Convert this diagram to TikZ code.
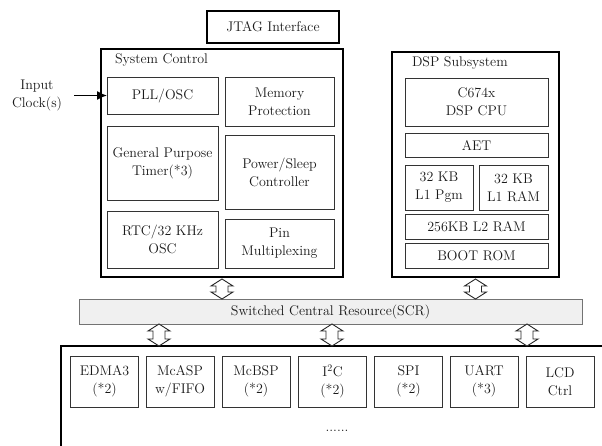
\documentclass[tikz,border=0pt]{standalone}
\usetikzlibrary{arrows.meta,calc}
\begin{document}
\begin{tikzpicture}[x=1pt,y=-1pt,
  every node/.style={font=\fontsize{14}{18}\selectfont, align=center, outer sep=0pt, inner sep=1pt, text=black!90},
  outerbox/.style={draw=black, line width=1.5pt},
  innerbox/.style={draw=black!80, line width=1pt},
  scrbox/.style={draw=black!55, line width=1pt, fill=black!6},
  dblarr/.style={draw=black!85, line width=0.9pt, fill=white},
  clkarr/.style={line width=1.4pt, -{Latex[length=10pt,width=9pt]}}
]
\useasboundingbox (0,0) rectangle (602,445);

% JTAG
\node[outerbox, minimum width=132, minimum height=32] (jtag) at (273,27) {JTAG Interface};

% System control
\node[outerbox, minimum width=242, minimum height=228] (sys) at (222,163) {};
\node[anchor=west] (syslbl) at (114,60) {System Control};
\node[innerbox, minimum width=111, minimum height=37] (pll) at (162.5,95.5) {PLL/OSC};
\node[innerbox, minimum width=109, minimum height=49] (mem) at (279.5,101.5) {Memory\\Protection};
\node[innerbox, minimum width=111, minimum height=74] (gpt) at (162.5,163) {General Purpose\\Timer(*3)};
\node[innerbox, minimum width=109, minimum height=74] (psc) at (279.5,172) {Power/Sleep\\Controller};
\node[innerbox, minimum width=111, minimum height=57] (rtc) at (162.5,239.5) {RTC/32 KHz\\OSC};
\node[innerbox, minimum width=109, minimum height=49] (pin) at (279.5,243.5) {Pin\\Multiplexing};

% Input clock
\node (clk) at (37,95) {Input\\Clock(s)};
\coordinate (clkin) at (74,95.5);
\draw[clkarr] (clkin) -- (pll.west);

% DSP subsystem
\node[outerbox, minimum width=167, minimum height=225] (dsp) at (475.5,164.5) {};
\node[anchor=west] (dsplbl) at (411,63) {DSP Subsystem};
\node[innerbox, minimum width=143, minimum height=48] (cpu) at (476.5,102) {C674x\\DSP CPU};
\node[innerbox, minimum width=143, minimum height=24] (aet) at (476.5,145) {AET};
\node[innerbox, minimum width=68, minimum height=45] (l1p) at (439,187.5) {32 KB\\L1 Pgm};
\node[innerbox, minimum width=69, minimum height=45] (l1r) at (513.5,187.5) {32 KB\\L1 RAM};
\node[innerbox, minimum width=143, minimum height=25] (l2) at (476.5,226.5) {256KB L2 RAM};
\node[innerbox, minimum width=143, minimum height=25] (boot) at (476.5,255.5) {BOOT ROM};

% SCR
\node[scrbox, minimum width=503, minimum height=25] (scr) at (330.5,311.5) {Switched Central Resource(SCR)};

% Peripheral box (extends beyond the page)
\begin{scope}
\clip (0,0) rectangle (602,445);
\draw[outerbox] (61,480) -- (61,346) -- (640,346);
\end{scope}
\coordinate (bus1) at (159,346);
\coordinate (bus2) at (332,346);
\coordinate (bus3) at (527,346);

\foreach \nm/\cx/\txt in {edma/104.5/{EDMA3\\(*2)}, mcasp/180/{McASP\\w/FIFO}, mcbsp/256/{McBSP\\(*2)},
  iic/332.5/{I$^2$C\\(*2)}, spi/408.5/{SPI\\(*2)}, uart/484/{UART\\(*3)}, lcd/560/{LCD\\Ctrl}}{
  \node[innerbox, minimum width=68, minimum height=51] (\nm) at (\cx,381.5) {\txt};
}
\node (dots) at (337,431) {......};

% double arrows
\newcommand\dblarrow[2]{%
  \path[dblarr] let \p1=#1, \p2=#2 in
    (\x1,\y1) -- ++(11pt,-7pt) -- ++(-5pt,0pt) -- (\x1+6pt,\y2+7pt) -- ++(5pt,0pt)
    -- (\x1,\y2) -- ++(-11pt,7pt) -- ++(5pt,0pt) -- (\x1-6pt,\y1-7pt) -- ++(-5pt,0pt) -- cycle;}
\coordinate (a1t) at ($(sys.south)+(0,2)$);
\coordinate (a1b) at (sys.south |- scr.north);
\coordinate (a2t) at ($(dsp.south)+(0,2)$);
\coordinate (a2b) at (dsp.south |- scr.north);
\dblarrow{(a1t)}{(a1b)}
\dblarrow{(a2t)}{(a2b)}
\dblarrow{(bus1 |- scr.south)}{(bus1)}
\dblarrow{(bus2 |- scr.south)}{(bus2)}
\dblarrow{(bus3 |- scr.south)}{(bus3)}
\end{tikzpicture}
\end{document}
